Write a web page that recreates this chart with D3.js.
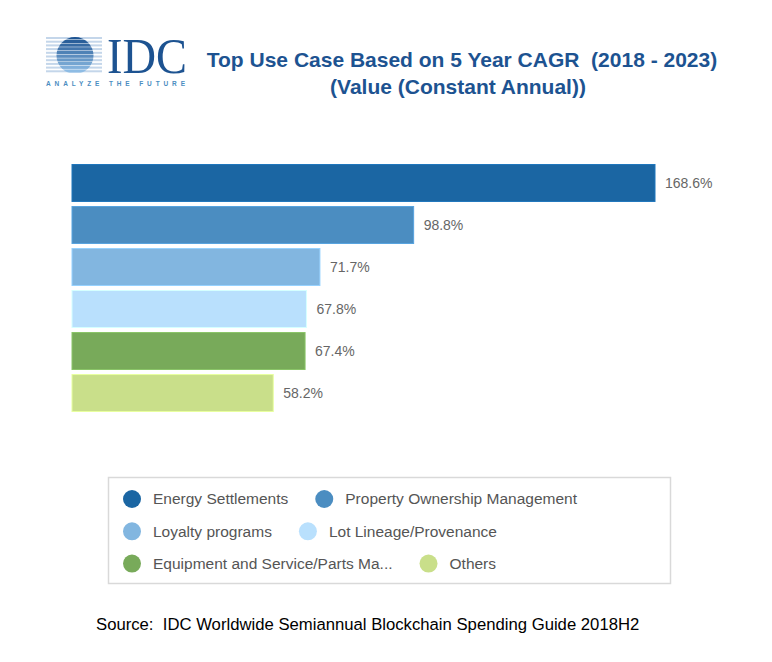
<!DOCTYPE html>
<html>
<head>
<meta charset="utf-8">
<script src="https://cdn.jsdelivr.net/npm/d3@7"></script>
<style>
  body { margin: 0; background: #fff; }
</style>
</head>
<body>
<div class="chart"></div>
<script>
const width = 772
const height = 662

const categories = ["Energy Settlements", "Property Ownership Management", "Loyalty programs",
  "Lot Lineage/Provenance", "Equipment and Service/Parts Ma...", "Others"];
const cagr = [168.6, 98.8, 71.7, 67.8, 67.4, 58.2];
const palette = ["#1b66a3", "#4b8dc1", "#82b6e0", "#b9e0fd", "#78aa5a", "#c9df8a"];
const legendRows = [[0, 1], [2, 3], [4, 5]];
const titleLines = ["Top Use Case Based on 5 Year CAGR  (2018 - 2023)", "(Value (Constant Annual))"];
const sourceText = "Source:  IDC Worldwide Semiannual Blockchain Spending Guide 2018H2";

const svg = d3.select(".chart").append("svg")
  .attr("width", width)
  .attr("height", height)
  .attr("viewBox", [0, 0, width, height]);

svg.append("rect").attr("width", width).attr("height", height).attr("fill", "#fff");

// --- logo
const logo = svg.append("g");
const defs = svg.append("defs");
defs.append("clipPath").attr("id", "globe")
  .append("circle").attr("cx", 75).attr("cy", 55.5).attr("r", 18.5);
const stripes = d3.range(10).map(i => 37 + i * 3.7);
logo.append("g").selectAll("rect").data(stripes).join("rect")
  .attr("x", 46).attr("width", 56).attr("y", d => d).attr("height", 2)
  .attr("fill", "#c4d6ea");
const stripeColor = d3.scaleLinear().domain([37, 70]).range(["#1d5391", "#8dbbe3"]);
logo.append("g").attr("clip-path", "url(#globe)")
  .selectAll("rect").data(stripes).join("rect")
  .attr("x", 50).attr("width", 50).attr("y", d => d - 0.9).attr("height", 3.2)
  .attr("fill", d => stripeColor(d));
logo.append("text")
  .attr("x", 107).attr("y", 73)
  .attr("textLength", 80).attr("lengthAdjust", "spacingAndGlyphs")
  .style("font", "50px 'Liberation Serif', serif")
  .attr("fill", "#1d5391")
  .text("IDC");
logo.append("text")
  .attr("x", 46).attr("y", 86)
  .attr("textLength", 139).attr("lengthAdjust", "spacing")
  .style("font", "bold 6.5px 'Liberation Sans', Arial, sans-serif")
  .attr("fill", "#4b8dc1")
  .text("ANALYZE THE FUTURE");

// --- title
svg.append("g").selectAll("text").data(titleLines).join("text")
  .attr("x", (d, i) => i === 0 ? 462 : 458)
  .attr("y", (d, i) => 67 + i * 27)
  .attr("text-anchor", "middle")
  .style("font", "bold 21px 'Liberation Sans', Arial, sans-serif")
  .attr("fill", "#1d5391")
  .attr("xml:space", "preserve")
  .style("white-space", "pre")
  .text(d => d);

// --- bars
const x = d3.scaleLinear().domain([0, d3.max(cagr)]).range([72, 655]);
const y = d3.scaleBand().domain(categories).range([164.5, 411.5]).paddingInner(0.12).paddingOuter(0);
const color = d3.scaleOrdinal().domain(categories).range(palette);

const rows = categories.map((c, i) => ({name: c, value: cagr[i]}));

svg.append("g").selectAll("rect").data(rows).join("rect")
  .attr("x", x(0))
  .attr("y", d => y(d.name))
  .attr("width", d => x(d.value) - x(0))
  .attr("height", y.bandwidth())
  .attr("fill", d => color(d.name))
  .attr("stroke", d => d3.color(color(d.name)).brighter(0.4))
  .attr("stroke-width", 1);

svg.append("g").selectAll("text").data(rows).join("text")
  .attr("x", d => x(d.value) + 10)
  .attr("y", d => y(d.name) + y.bandwidth() / 2)
  .attr("dy", "0.35em")
  .style("font", "14px 'Liberation Sans', Arial, sans-serif")
  .attr("fill", "#666")
  .text(d => `${d.value.toFixed(1)}%`);

// --- legend
svg.append("rect")
  .attr("x", 108.5).attr("y", 477.5).attr("width", 562).attr("height", 106)
  .attr("fill", "#fff").attr("stroke", "#d9d9d9").attr("stroke-width", 1.5);

const legend = svg.append("g");
legendRows.forEach((row, r) => {
  let cx = 132;
  const cy = 499 + r * 32.3;
  row.forEach(i => {
    legend.append("circle").attr("cx", cx).attr("cy", cy).attr("r", 9).attr("fill", palette[i]);
    const t = legend.append("text")
      .attr("x", cx + 21).attr("y", cy).attr("dy", "0.35em")
      .style("font", "15.5px 'Liberation Sans', Arial, sans-serif")
      .attr("fill", "#555")
      .text(categories[i]);
    cx = cx + 21 + t.node().getComputedTextLength() + 36;
  });
});

// --- source
const src = svg.append("text")
  .attr("x", 96).attr("y", 630)
  .style("font", "17px 'Liberation Sans', Arial, sans-serif")
  .attr("fill", "#000")
  .attr("xml:space", "preserve")
  .style("white-space", "pre")
  .text(sourceText);
const srcLen = src.node().getComputedTextLength();
src.style("font-size", `${17 * 544 / srcLen}px`);
</script>
</body>
</html>
